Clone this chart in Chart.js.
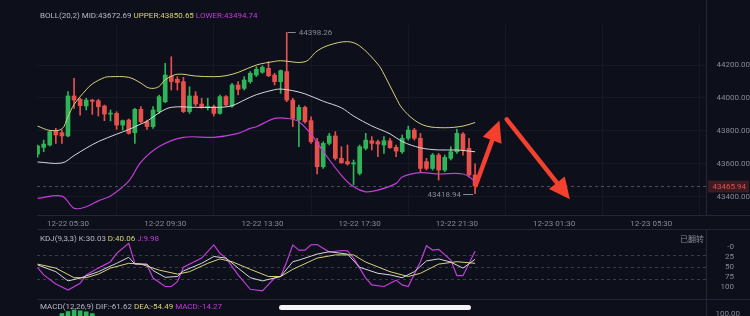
<!DOCTYPE html>
<html>
<head>
<meta charset="utf-8">
<script src="https://cdn.jsdelivr.net/npm/chart.js@4.4.1/dist/chart.umd.min.js"></script>
<style>
  html, body { margin:0; padding:0; background:#0d0f1a; overflow:hidden; }
  #wrap { position:relative; width:750px; height:316px; }
  canvas { position:absolute; left:0; }
  #homeBar { position:absolute; left:279px; top:305px; width:192px; height:5px; border-radius:3px; background:#f4f4f6; }
</style>
</head>
<body>
<div id="wrap">
  <canvas id="mainChart" width="750" height="230" style="top:0"></canvas>
  <canvas id="kdjChart" width="750" height="71" style="top:229px"></canvas>
  <canvas id="macdChart" width="750" height="17" style="top:299px"></canvas>
  <div id="homeBar"></div>
</div>
<script>
// DATA (x = 15 min candle index, 0 = 12-22 04:15)
const xTickIdx = [5, 21, 37, 53, 69, 85, 101];
const xTickLabels = ["12-22 05:30","12-22 09:30","12-22 13:30","12-22 17:30","12-22 21:30","12-23 01:30","12-23 05:30"];
const priceTicks = [43400, 43600, 43800, 44000, 44200];
const kdjTicks = [0, 25, 50, 75, 100];
const kdjTickLabels = ["-0", "25", "50", "75", "100"];
const kdjLevels = [20, 50, 80];
const macdTicks = [100];

const openP  = [43659,43700,43714,43799,43789,43769,44012,43992,43951,43987,43983,43951,43902,43906,43835,43866,43789,43931,43856,43826,43917,43977,44133,44113,44099,43917,44012,43963,43943,43947,43906,44008,43951,44079,44058,44099,44139,44156,44180,44139,44099,44160,43987,43866,43943,43862,43734,43582,43724,43769,43633,43613,43599,43542,43694,43740,43734,43714,43740,43700,43673,43755,43805,43755,43613,43572,43653,43562,43633,43673,43781,43694,43532];
const highP  = [43714,43744,43801,43815,43805,44038,44119,43998,43998,43992,43992,43957,43927,43916,43866,43872,43937,43947,43866,43947,44018,44210,44250,44129,44125,44068,44038,43998,43998,43957,44018,44014,44089,44099,44129,44160,44190,44196,44220,44150,44170,44398.26,43998,43957,43951,43886,43755,43734,43785,43795,43704,43714,43623,43714,43785,43765,43744,43765,43755,43714,43775,43829,43815,43785,43633,43663,43663,43653,43704,43809,43789,43755,43600];
const lowP   = [43641,43673,43708,43724,43724,43763,43937,43896,43927,43900,43890,43862,43860,43809,43805,43780,43724,43846,43809,43815,43906,43971,44048,44048,43911,43906,43951,43937,43927,43890,43902,43951,43943,44018,44048,44089,44129,44150,44129,44079,44028,43977,43826,43704,43846,43724,43538,43572,43714,43623,43603,43592,43471,43532,43684,43684,43643,43663,43694,43643,43663,43744,43744,43552,43562,43562,43501,43552,43623,43663,43653,43521,43418.94];
const closeP = [43708,43720,43795,43775,43769,44012,43987,43953,43987,43979,43947,43902,43908,43835,43862,43785,43931,43856,43826,43927,44008,44139,44099,44093,43917,44012,43963,43943,43949,43906,44008,43957,44079,44052,44109,44150,44174,44186,44135,44099,44166,43987,43876,43943,43856,43734,43582,43724,43769,43633,43606,43599,43606,43704,43744,43724,43720,43740,43698,43677,43755,43805,43755,43572,43572,43653,43562,43639,43673,43785,43684,43532,43465.94];

const bollUpper = [[0,43829],[2,43803],[4,43812],[5,43886],[6,43960],[8,44050],[9,44085],[11,44124],[12,44129],[15,44125],[17,44090],[18,44065],[19,44058],[20,44070],[21,44110],[23,44144],[26,44133],[29,44129],[31,44135],[33,44155],[36,44200],[39,44222],[40,44226],[44,44220],[46,44285],[48,44321],[51,44342],[53,44316],[56,44205],[57,44145],[59,44000],[60,43937],[62,43866],[64,43829],[67,43819],[70,43829],[72,43851]];
const bollMid   = [[0,43611],[4,43605],[6,43650],[8,43695],[10,43735],[13,43780],[15,43808],[17,43842],[18,43858],[20,43910],[22,43943],[26,43943],[30,43943],[32,43953],[34,43987],[36,44020],[39,44050],[40,44054],[42,44044],[44,44025],[47,43980],[50,43940],[52,43890],[55,43830],[58,43782],[60,43735],[63,43697],[66,43684],[69,43684],[72,43673]];
const bollLower = [[0,43390],[4,43404],[6,43330],[8,43339],[10,43375],[12,43405],[15,43495],[17,43610],[20,43705],[24,43761],[29,43761],[33,43785],[35,43815],[36,43825],[39,43876],[41,43876],[43,43856],[45,43780],[47,43675],[50,43530],[52,43460],[54,43430],[56,43440],[59,43481],[60,43520],[63,43546],[66,43538],[70,43538],[72,43495]];

const kdjK = [[0,44],[3,61],[5,84],[7,77],[10,61],[13,40],[15,25],[16,42],[18,42],[19,58],[21,75],[23,73],[24,59],[27,40],[29,23],[31,27],[33,52],[35,76],[37,84],[40,73],[42,36],[43,32],[46,17],[48,11],[51,17],[53,50],[56,65],[58,69],[60,76],[62,61],[64,34],[66,29],[68,37],[70,52],[72,30]];
const kdjD = [[0,42],[3,52],[6,76],[8,76],[10,67],[12,52],[15,40],[17,42],[20,57],[23,67],[25,61],[28,40],[30,29],[32,36],[35,55],[38,73],[40,73],[42,55],[46,27],[49,19],[52,19],[54,37],[58,61],[61,73],[63,65],[66,42],[69,36],[72,40]];
const kdjJ = [[0,51],[1,69],[3,92],[5,107],[7,90],[8,69],[10,52],[12,36],[13,15],[15,-10],[16,40],[18,44],[19,77],[21,98],[22,98],[23,86],[24,50],[27,27],[29,-6],[30,15],[31,27],[33,69],[35,105],[37,109],[39,77],[40,73],[41,36],[42,-6],[43,7],[44,7],[45,-6],[46,-7],[48,12],[50,8],[51,9],[52,27],[54,77],[55,94],[57,98],[59,82],[60,94],[61,98],[63,36],[64,-4],[65,7],[66,5],[68,32],[69,71],[70,71],[72,10]];

const macdHist = [[4,105],[5,125],[6,140],[7,132],[8,122],[9,104]];

const lastPrice = 43465.94;
const highMark = [41, 44398.26];
const lowMark = [72, 43418.94];
// hand drawn arrows, [tail, tip] in (index, price)
const arrowUp = [[72.1, 43470], [76.0, 43863]];
const arrowDown = [[77.2, 43870], [87.6, 43385]];

// STYLE
const FONT = 'Roboto, "Noto Sans", sans-serif';
const GREEN = "#2fb45a";
const RED = "#e8504c";
const YELLOW = "#d8d27a";
const WHITE = "#d6d7dd";
const PURPLE = "#c23ed8";
const AXIS_TEXT = "#878a96";
const TITLE_GREY = "#b7bac4";
const GRID = "#151826";
const BORDER = "#232636";
const ARROW = "#f4412f";

Chart.defaults.font.family = FONT;
Chart.defaults.animation = false;

function candleColor(i){
  return closeP[i] >= openP[i] ? GREEN : RED;
}

function pts(arr){
  return arr.map(p => ({x: p[0], y: p[1]}));
}

// right axis with fixed width and no extra vertical padding
function fixAxis(ax){
  ax.width = 44;
  ax.paddingTop = 0;
  ax.paddingBottom = 0;
}

function drawParts(ctx, x, y, parts){
  ctx.save();
  ctx.font = "8px " + FONT;
  ctx.textBaseline = "middle";
  ctx.textAlign = "left";
  parts.forEach(p => {
    ctx.fillStyle = p[1];
    ctx.fillText(p[0], x, y);
    x += ctx.measureText(p[0]).width;
  });
  ctx.restore();
}

// axis labels drawn at the scale's own pixel positions
function drawAxisLabels(chart, values, labels, rightX){
  const ctx = chart.ctx, ys = chart.scales.y;
  ctx.save();
  ctx.font = "8px " + FONT;
  ctx.fillStyle = AXIS_TEXT;
  ctx.textAlign = "right";
  ctx.textBaseline = "middle";
  values.forEach((v, i) => ctx.fillText(labels[i], rightX, ys.getPixelForValue(v)));
  ctx.restore();
}

function drawArrow(ctx, x1, y1, x2, y2){
  const ang = Math.atan2(y2 - y1, x2 - x1);
  const headLen = 21, headW = 10;
  const bx = x2 - Math.cos(ang) * headLen, by = y2 - Math.sin(ang) * headLen;
  ctx.save();
  ctx.strokeStyle = ARROW;
  ctx.fillStyle = ARROW;
  ctx.lineWidth = 4.5;
  ctx.lineCap = "round";
  ctx.beginPath();
  ctx.moveTo(x1, y1);
  ctx.lineTo(bx, by);
  ctx.stroke();
  ctx.beginPath();
  ctx.moveTo(x2, y2);
  ctx.lineTo(bx + Math.sin(ang) * headW, by - Math.cos(ang) * headW);
  ctx.lineTo(bx - Math.sin(ang) * headW, by + Math.cos(ang) * headW);
  ctx.closePath();
  ctx.fill();
  ctx.restore();
}

// MAIN CHART DECORATIONS
const mainDecor = {
  id: "mainDecor",
  afterDraw(chart){
    const ctx = chart.ctx, xs = chart.scales.x, ys = chart.scales.y, area = chart.chartArea;

    drawParts(ctx, 40, 16, [
      ["BOLL(20,2) MID:43672.69 ", TITLE_GREY],
      ["UPPER:43850.65 ", YELLOW],
      ["LOWER:43494.74", PURPLE]
    ]);

    // last price line
    const py = Math.round(ys.getPixelForValue(lastPrice)) + 0.5;
    ctx.save();
    ctx.strokeStyle = "#4a4d5c";
    ctx.lineWidth = 1;
    ctx.setLineDash([3, 3]);
    ctx.beginPath();
    ctx.moveTo(area.left, py);
    ctx.lineTo(area.right, py);
    ctx.stroke();
    ctx.restore();

    ctx.save();
    ctx.fillStyle = "#3a1c22";
    ctx.fillRect(area.right + 2, py - 6, 41, 12);
    ctx.font = "8px " + FONT;
    ctx.fillStyle = RED;
    ctx.textAlign = "right";
    ctx.textBaseline = "middle";
    ctx.fillText(lastPrice.toFixed(2), 746, py);
    ctx.restore();

    // high / low marks
    ctx.save();
    ctx.font = "8px " + FONT;
    ctx.fillStyle = AXIS_TEXT;
    ctx.strokeStyle = AXIS_TEXT;
    ctx.lineWidth = 1;
    ctx.textBaseline = "middle";
    const hx = xs.getPixelForValue(highMark[0]), hy = Math.round(ys.getPixelForValue(highMark[1])) + 0.5;
    ctx.beginPath(); ctx.moveTo(hx + 1, hy); ctx.lineTo(hx + 9, hy); ctx.stroke();
    ctx.textAlign = "left";
    ctx.fillText(highMark[1].toFixed(2), hx + 12, hy);
    const lx = xs.getPixelForValue(lowMark[0]), ly = Math.round(ys.getPixelForValue(lowMark[1])) + 0.5;
    ctx.beginPath(); ctx.moveTo(lx - 2, ly); ctx.lineTo(lx - 12, ly); ctx.stroke();
    ctx.textAlign = "right";
    ctx.fillText(lowMark[1].toFixed(2), lx - 14, ly);
    ctx.restore();

    // separators
    ctx.save();
    ctx.strokeStyle = BORDER;
    ctx.lineWidth = 1;
    ctx.beginPath();
    ctx.moveTo(area.left, area.bottom + 0.5); ctx.lineTo(750, area.bottom + 0.5);
    ctx.moveTo(area.left, 229.5); ctx.lineTo(750, 229.5);
    ctx.moveTo(Math.round(area.right) + 0.5, 0); ctx.lineTo(Math.round(area.right) + 0.5, area.top);
    ctx.stroke();
    ctx.restore();

    // arrows
    [arrowUp, arrowDown].forEach(a => {
      drawArrow(ctx,
        xs.getPixelForValue(a[0][0]), ys.getPixelForValue(a[0][1]),
        xs.getPixelForValue(a[1][0]), ys.getPixelForValue(a[1][1]));
    });
  }
};

// MAIN CHART
new Chart(document.getElementById("mainChart"), {
  type: "bar",
  data: {
    datasets: [
      {
        type: "line", data: pts(bollUpper), borderColor: YELLOW, borderWidth: 1,
        pointRadius: 0, tension: 0.35, order: 0
      },
      {
        type: "line", data: pts(bollMid), borderColor: WHITE, borderWidth: 1,
        pointRadius: 0, tension: 0.35, order: 0
      },
      {
        type: "line", data: pts(bollLower), borderColor: PURPLE, borderWidth: 1.2,
        pointRadius: 0, tension: 0.35, order: 0
      },
      {
        data: openP.map((o, i) => ({x: i, y: [o, closeP[i]]})),
        backgroundColor: ctx => candleColor(ctx.dataIndex),
        barThickness: 4, minBarLength: 1, grouped: false, order: 1
      },
      {
        data: lowP.map((l, i) => ({x: i, y: [l, highP[i]]})),
        backgroundColor: ctx => candleColor(ctx.dataIndex),
        barThickness: 1, grouped: false, order: 2
      }
    ]
  },
  options: {
    responsive: false,
    layout: { padding: { left: 37, top: 25, right: 0, bottom: 0 } },
    plugins: { legend: { display: false }, tooltip: { enabled: false } },
    scales: {
      x: {
        type: "linear", min: -0.1, max: 110, offset: false,
        grid: { color: GRID, drawTicks: false },
        border: { display: false },
        ticks: {
          color: AXIS_TEXT, font: { size: 8 }, padding: 4, maxRotation: 0, autoSkip: false,
          callback: v => xTickLabels[xTickIdx.indexOf(v)] || ""
        },
        afterBuildTicks: ax => { ax.ticks = xTickIdx.map(v => ({value: v})); },
        afterFit: ax => { ax.height = 15; }
      },
      y: {
        position: "right", min: 43289, max: 44443,
        grid: { color: GRID, drawTicks: false },
        border: { display: true, color: BORDER },
        ticks: {
          color: AXIS_TEXT, font: { size: 8 }, padding: 6, crossAlign: "far",
          callback: v => v.toFixed(2)
        },
        afterBuildTicks: ax => { ax.ticks = priceTicks.map(v => ({value: v})); },
        afterFit: fixAxis
      }
    }
  },
  plugins: [mainDecor]
});

// KDJ CHART
const kdjDecor = {
  id: "kdjDecor",
  afterDraw(chart){
    const ctx = chart.ctx, area = chart.chartArea;
    drawParts(ctx, 40, 9.5, [
      ["KDJ(9,3,3) K:30.03 ", TITLE_GREY],
      ["D:40.06 ", YELLOW],
      ["J:9.98", PURPLE]
    ]);
    drawAxisLabels(chart, kdjTicks, kdjTickLabels, 734);
    ctx.save();
    ctx.font = '8px "Noto Sans CJK SC", sans-serif';
    ctx.fillStyle = AXIS_TEXT;
    ctx.textAlign = "right";
    ctx.textBaseline = "middle";
    ctx.fillText("已翻转", 704, 10);
    ctx.strokeStyle = BORDER;
    ctx.beginPath();
    ctx.moveTo(area.left, area.bottom + 0.5); ctx.lineTo(750, area.bottom + 0.5);
    ctx.stroke();
    ctx.restore();
  }
};

new Chart(document.getElementById("kdjChart"), {
  type: "line",
  data: {
    datasets: [
      { data: pts(kdjK), borderColor: WHITE, borderWidth: 1, pointRadius: 0, tension: 0 },
      { data: pts(kdjD), borderColor: YELLOW, borderWidth: 1, pointRadius: 0, tension: 0 },
      { data: pts(kdjJ), borderColor: PURPLE, borderWidth: 1.2, pointRadius: 0, tension: 0 }
    ]
  },
  options: {
    responsive: false,
    layout: { padding: { left: 37, top: 0, right: 0, bottom: 1 }, autoPadding: false },
    plugins: { legend: { display: false }, tooltip: { enabled: false } },
    scales: {
      x: { type: "linear", min: -0.1, max: 110, display: false },
      y: {
        position: "right", reverse: true, min: -45.75, max: 129.25,
        grid: { drawTicks: false, color: "#3a3d4c" },
        border: { display: true, color: BORDER, dash: [3, 3] },
        ticks: { display: false },
        afterBuildTicks: ax => { ax.ticks = kdjLevels.map(v => ({value: v})); },
        afterFit: fixAxis
      }
    }
  },
  plugins: [kdjDecor]
});

// MACD CHART (only its top is on screen)
const macdDecor = {
  id: "macdDecor",
  afterDraw(chart){
    drawParts(chart.ctx, 40, 8, [
      ["MACD(12,26,9) DIF:-61.62 ", TITLE_GREY],
      ["DEA:-54.49 ", YELLOW],
      ["MACD:-14.27", PURPLE]
    ]);
    drawAxisLabels(chart, macdTicks, macdTicks.map(v => v.toFixed(2)), 740);
  }
};

new Chart(document.getElementById("macdChart"), {
  type: "bar",
  data: {
    datasets: [{
      data: pts(macdHist), backgroundColor: GREEN, barThickness: 4
    }]
  },
  options: {
    responsive: false,
    layout: { padding: { left: 37, top: 1, right: 0, bottom: 0 }, autoPadding: false },
    plugins: { legend: { display: false }, tooltip: { enabled: false } },
    scales: {
      x: { type: "linear", min: -0.1, max: 110, offset: false, display: false },
      y: {
        position: "right", min: 80, max: 240,
        grid: { display: false },
        border: { display: true, color: BORDER },
        ticks: { display: false },
        afterFit: fixAxis
      }
    }
  },
  plugins: [macdDecor]
});
</script>
</body>
</html>
